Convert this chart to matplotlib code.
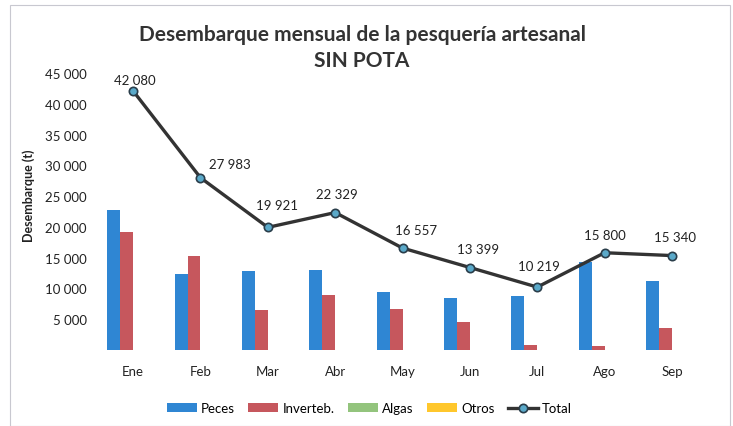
import numpy as np
import matplotlib.pyplot as plt
from matplotlib.patches import Rectangle

plt.rcParams['font.family'] = ['Lato', 'DejaVu Sans']

meses = ['Ene', 'Feb', 'Mar', 'Abr', 'May', 'Jun', 'Jul', 'Ago', 'Sep']
peces = [22800, 12400, 12800, 13000, 9400, 8400, 8700, 14300, 11200]
inverteb = [19200, 15200, 6500, 8900, 6600, 4500, 800, 700, 3500]
algas = [30, 40, 60, 50, 40, 40, 60, 50, 50]
otros = [20, 30, 40, 40, 30, 30, 40, 40, 30]
total = [42080, 27983, 19921, 22329, 16557, 13399, 10219, 15800, 15340]
yticks = [5000, 10000, 15000, 20000, 25000, 30000, 35000, 40000, 45000]

# label offsets (points) for the total data labels
lab_off = [(1.5, 8), (21.5, 10), (6.5, 16), (1.5, 13.5), (10, 13), (6, 13),
           (1, 15), (0, 13), (2, 13.5)]

fig = plt.figure(figsize=(7.33, 4.27), dpi=100)
ax = fig.add_axes([0.1357, 0.178, 0.827, 0.6487])

x = np.arange(len(meses))
w = 0.193
b1 = ax.bar(x - 1.5*w, peces, w, color='#2f86d3')
b2 = ax.bar(x - 0.5*w, inverteb, w, color='#c6575d')
b3 = ax.bar(x + 0.5*w, algas, w, color='#93c47d')
b4 = ax.bar(x + 1.5*w, otros, w, color='#ffc72c')
ln, = ax.plot(x, total, color='#333333', lw=2.4, marker='o', ms=6,
              mfc='#5aa9c9', mec='#2a3d4a', mew=1.2)

for xi, v, off in zip(x, total, lab_off):
    s = '{:,}'.format(v).replace(',', ' ')
    ax.annotate(s, (xi, v), xytext=off, textcoords='offset points',
                ha='center', va='center', fontsize=9.5, color='#222222')

ax.set_xlim(-0.5, len(meses) - 0.5)
ax.set_ylim(0, 45000)
ax.set_yticks(yticks)
ax.set_yticklabels(['{:,}'.format(t).replace(',', ' ') for t in yticks],
                   fontsize=9.5, color='#222222')
ax.set_xticks(x)
ax.set_xticklabels(meses, fontsize=9.5, color='#222222')
ax.tick_params(length=0)
ax.tick_params(axis='y', pad=9)
ax.tick_params(axis='x', pad=11)
for s in ax.spines.values():
    s.set_visible(False)

ax.set_ylabel('Desembarque (t)', fontsize=9, fontweight='bold', color='#222222')
ax.yaxis.set_label_coords(-0.106, 0.56)

fig.text(0.494, 0.888, 'Desembarque mensual de la pesquería artesanal\nSIN POTA',
         ha='center', va='center', fontsize=15, fontweight='bold',
         color='#333333', linespacing=1.4)

ax.legend([b1, b2, b3, b4, ln], ['Peces', 'Inverteb.', 'Algas', 'Otros', 'Total'],
          loc='center', bbox_to_anchor=(0.445, -0.21), ncol=5, frameon=False,
          fontsize=9.5, handlelength=2.3, handleheight=0.6, columnspacing=1.0,
          handletextpad=0.3)

fig.patches.append(Rectangle((0.014, 0.0), 0.982, 0.985, transform=fig.transFigure,
                             fill=False, edgecolor='#c8c8d0', lw=0.8))

fig.savefig('out.png', dpi=100)
